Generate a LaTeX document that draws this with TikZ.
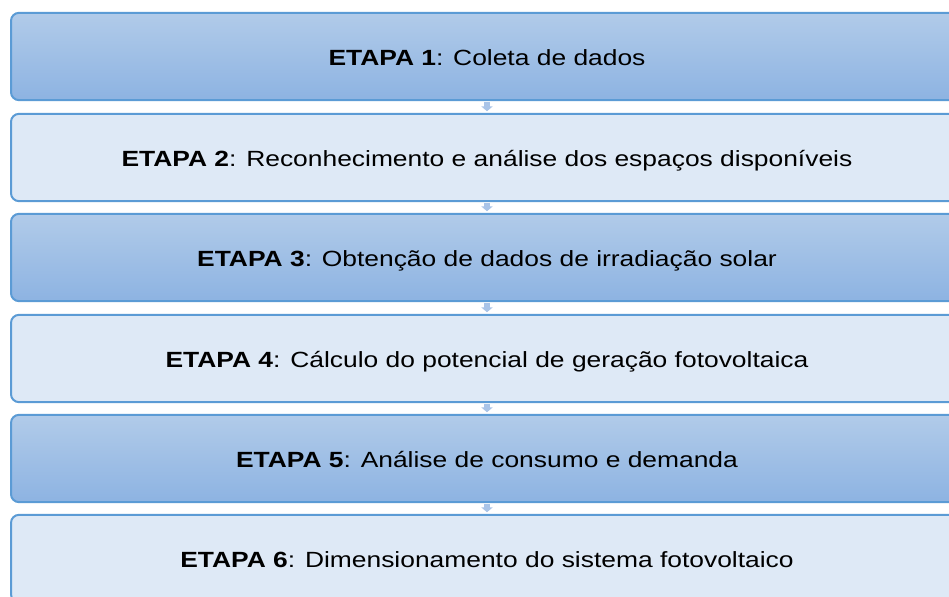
\documentclass[tikz,border=0pt]{standalone}
\usepackage{fontspec}
\setmainfont{Liberation Sans}[FakeStretch=1.2]
\usetikzlibrary{arrows.meta}
\definecolor{bordc}{HTML}{5B9BD5}
\definecolor{topc}{HTML}{B1CBE9}
\definecolor{botc}{HTML}{8DB3E2}
\definecolor{lightc}{HTML}{DEE9F6}
\definecolor{arrc}{HTML}{A9C4E8}
\begin{document}
\begin{tikzpicture}[x=0.75pt,y=-0.75pt,
  stage/.style={draw=bordc, line width=1.5pt, rounded corners=6pt,
    minimum width=714pt, minimum height=65.5pt, inner sep=0pt,
    text height=14pt, text depth=0pt,
    font=\fontsize{16.5}{19}\selectfont, text=black},
  darkstage/.style={stage, top color=topc, bottom color=botc},
  lightstage/.style={stage, fill=lightc},
  flow/.style={draw=arrc, line width=5.2pt, shorten <=0.6pt, shorten >=1.2pt,
    -{Triangle[width=8.3pt,length=3.6pt]}}]
\useasboundingbox (0,0) rectangle (949,596);
\clip (0,0) rectangle (949,596);
\fill[white] (0,0) rectangle (949,596);
\node[darkstage]  (s1) at (487,56.5)  {\textbf{ETAPA 1}: Coleta de dados};
\node[lightstage] (s2) at (487,157.5) {\textbf{ETAPA 2}: Reconhecimento e análise dos espaços disponíveis};
\node[darkstage]  (s3) at (487,257.5) {\textbf{ETAPA 3}: Obtenção de dados de irradiação solar};
\node[lightstage] (s4) at (487,358.5) {\textbf{ETAPA 4}: Cálculo do potencial de geração fotovoltaica};
\node[darkstage]  (s5) at (487,458.5) {\textbf{ETAPA 5}: Análise de consumo e demanda};
\node[lightstage] (s6) at (487,558.5) {\textbf{ETAPA 6}: Dimensionamento do sistema fotovoltaico};
\draw[flow] (s1) -- (s2);
\draw[flow] (s2) -- (s3);
\draw[flow] (s3) -- (s4);
\draw[flow] (s4) -- (s5);
\draw[flow] (s5) -- (s6);
\end{tikzpicture}
\end{document}
